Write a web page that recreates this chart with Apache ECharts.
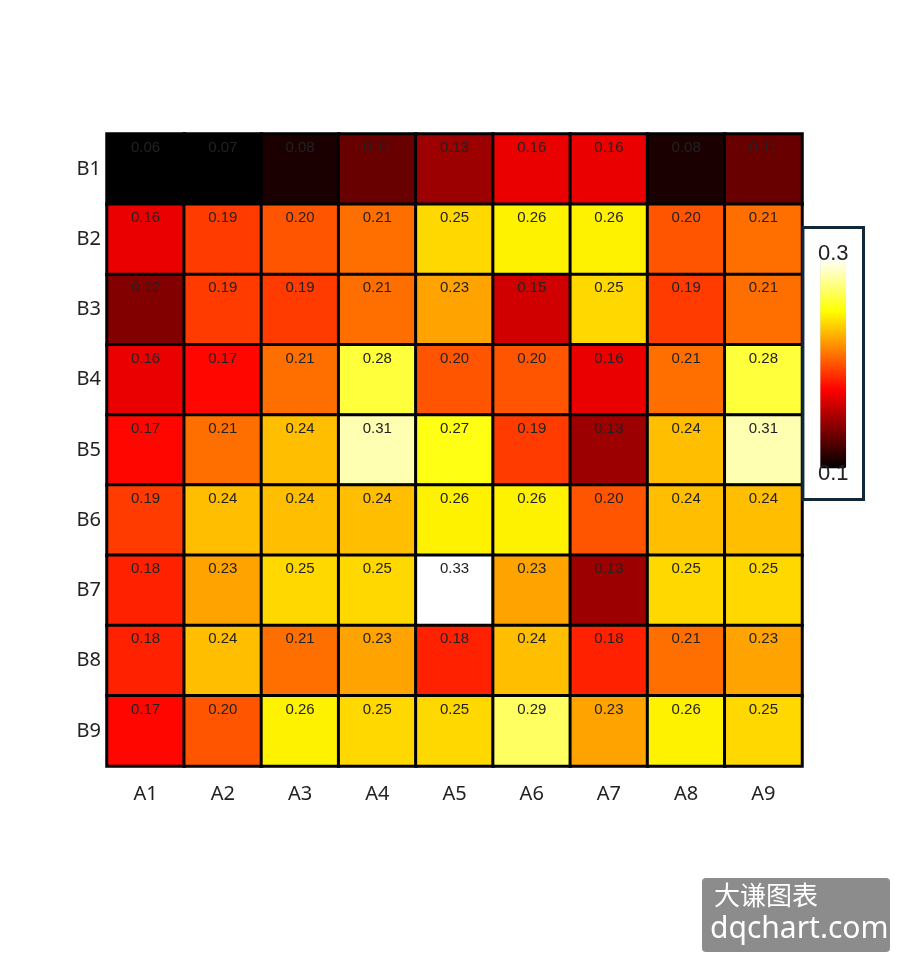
<!DOCTYPE html>
<html><head><meta charset="utf-8">
<script src="https://cdn.jsdelivr.net/npm/echarts@6/dist/echarts.min.js"></script>
<style>html,body{margin:0;padding:0;background:#fff}#c{width:917px;height:978px}</style>
</head><body><div id="c"></div>
<script>
const xCats = ['A1','A2','A3','A4','A5','A6','A7','A8','A9'];
const yCats = ['B1','B2','B3','B4','B5','B6','B7','B8','B9'];
const B1 = [0.06,0.07,0.08,0.11,0.13,0.16,0.16,0.08,0.11];
const B2 = [0.16,0.19,0.20,0.21,0.25,0.26,0.26,0.20,0.21];
const B3 = [0.12,0.19,0.19,0.21,0.23,0.15,0.25,0.19,0.21];
const B4 = [0.16,0.17,0.21,0.28,0.20,0.20,0.16,0.21,0.28];
const B5 = [0.17,0.21,0.24,0.31,0.27,0.19,0.13,0.24,0.31];
const B6 = [0.19,0.24,0.24,0.24,0.26,0.26,0.20,0.24,0.24];
const B7 = [0.18,0.23,0.25,0.25,0.33,0.23,0.13,0.25,0.25];
const B8 = [0.18,0.24,0.21,0.23,0.18,0.24,0.18,0.21,0.23];
const B9 = [0.17,0.20,0.26,0.25,0.25,0.29,0.23,0.26,0.25];
const rows = [B1,B2,B3,B4,B5,B6,B7,B8,B9];
const data = [];
rows.forEach((r,yi)=>r.forEach((v,xi)=>data.push([xi,yi,v])));
const ch = echarts.init(document.getElementById('c'));
ch.setOption({
  backgroundColor:'#fff',
  grid:{left:107,top:134,width:695,height:632,show:true,borderColor:'#000',borderWidth:2},
  xAxis:{type:'category',data:xCats,axisLine:{show:false},axisTick:{show:false},splitLine:{show:false},
    axisLabel:{fontSize:20,color:'#222',margin:18,fontFamily:'Noto Sans'}},
  yAxis:{type:'category',data:yCats,inverse:true,axisLine:{show:false},axisTick:{show:false},splitLine:{show:false},
    axisLabel:{fontSize:20,color:'#222',margin:6,fontFamily:'Noto Sans'}},
  visualMap:{type:'continuous',min:0.07,max:0.33,calculable:false,orient:'vertical',
    right:52,top:226,itemWidth:26,itemHeight:210,text:['0.3','0.1'],textGap:-6,
    textStyle:{fontSize:22,color:'#222'},align:'left',
    borderColor:'#10283a',borderWidth:3,
    inRange:{color:['#000000','#550000','#aa0000','#ff0000','#ff5500','#ffaa00','#ffff00','#ffff80','#ffffff']}},
  series:[{type:'heatmap',data:data,
    itemStyle:{borderColor:'#000',borderWidth:3},
    label:{show:true,position:'insideTop',distance:8,fontSize:15,color:'#222',
      formatter:p=>p.value[2].toFixed(2)}}],
  graphic:[{type:'group',right:27,bottom:26,children:[
    {type:'rect',shape:{x:0,y:0,width:188,height:74,r:4},style:{fill:'#8c8c8c'}},
    {type:'text',x:12,y:4,style:{text:'大谦图表',fontSize:26,fill:'#fff',fontFamily:'Noto Sans CJK SC'}},
    {type:'text',x:8,y:36,style:{text:'dqchart.com',fontSize:30,fill:'#fff',fontFamily:'Noto Sans'}}]}]
});
</script></body></html>
